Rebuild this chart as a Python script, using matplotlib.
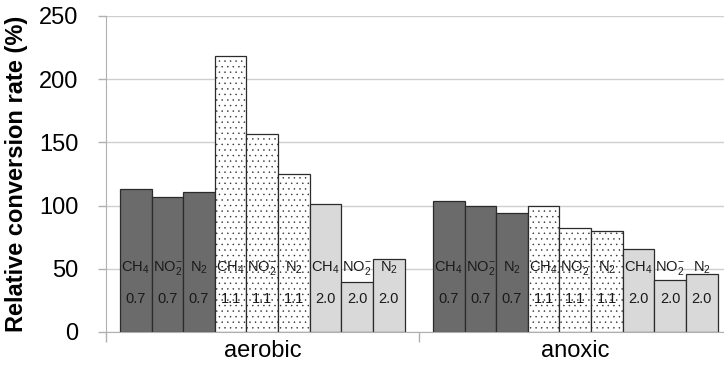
import matplotlib
matplotlib.use("Agg")
import matplotlib.pyplot as plt
import numpy as np

plt.rcParams["font.family"] = ["Liberation Sans", "DejaVu Sans"]
plt.rcParams["mathtext.fontset"] = "custom"
plt.rcParams["mathtext.rm"] = "Liberation Sans"
plt.rcParams["mathtext.it"] = "Liberation Sans:italic"
plt.rcParams["mathtext.bf"] = "Liberation Sans:bold"
plt.rcParams["hatch.color"] = "#a8a8a8"
plt.rcParams["hatch.linewidth"] = 0.3

conditions = ["aerobic", "anoxic"]
gases = ["CH$_4$", "NO$_2^{-}$", "N$_2$"]
ratios = ["0.7", "1.1", "2.0"]

# rates per condition, ordered ratio-major: (0.7: CH4, NO2-, N2), (1.1: ...), (2.0: ...)
aerobic = [113, 107, 110.5, 218, 157, 125, 101, 39.5, 58]
anoxic = [103.5, 99.5, 94.5, 99.5, 82.5, 80, 66, 41, 46]
rates = [aerobic, anoxic]

ratio_style = {
    "0.7": dict(color="#6b6b6b", hatch=None),
    "1.1": dict(color="white", hatch="..."),
    "2.0": dict(color="#d9d9d9", hatch=None),
}

fig = plt.figure(figsize=(7.24, 3.75), dpi=100)
ax = fig.add_axes([106 / 724, 43 / 375, 626 / 724, 316 / 375])

width = 0.101
offset0 = -0.5 + 14 / 313
for ci, vals in enumerate(rates):
    k = 0
    for r in ratios:
        for g in gases:
            x = ci + offset0 + k * width
            st = ratio_style[r]
            ax.bar(x, vals[k], width=width, align="edge", color=st["color"],
                   hatch=st["hatch"], edgecolor="#2b2b2b", linewidth=0.9, zorder=2)
            ax.text(x + width / 2, 51, g, ha="center", va="center", fontsize=10.5,
                    color="#1a1a1a", zorder=3)
            ax.text(x + width / 2, 26, r, ha="center", va="center", fontsize=10.5,
                    color="#1a1a1a", zorder=3)
            k += 1

ax.set_xlim(-0.5, 1.5)
ax.set_ylim(0, 250)
ax.set_yticks(np.arange(0, 251, 50))
ax.yaxis.grid(True, color="#cfcfcf", linewidth=1.0, zorder=0)
ax.set_axisbelow(True)

ax.set_xticks([-0.5, 0.5, 1.5])
ax.set_xticklabels([])
ax.set_xticks(range(len(conditions)), minor=True)
ax.set_xticklabels(conditions, minor=True, fontsize=17)
ax.tick_params(axis="x", which="major", length=7, color="#b0b0b0", width=1)
ax.tick_params(axis="x", which="minor", length=0, pad=6)
ax.tick_params(axis="y", length=6, color="#b0b0b0", width=1, labelsize=17, pad=14)

for s in ["top", "right"]:
    ax.spines[s].set_visible(False)
ax.spines["left"].set_color("#b0b0b0")
ax.spines["bottom"].set_color("#b0b0b0")
ax.spines["left"].set_bounds(0, 250)

ax.set_ylabel("Relative conversion rate (%)", fontsize=17, fontweight="bold", labelpad=8)

fig.savefig("out.png", dpi=100)
